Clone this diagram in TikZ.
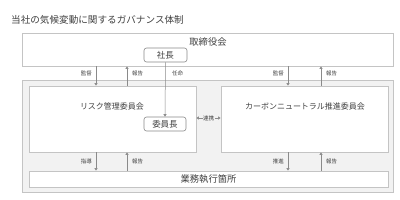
\documentclass[tikz,border=0pt]{standalone}
\usepackage{fontspec}
\setmainfont{Noto Sans CJK JP}
\usetikzlibrary{arrows.meta}
\definecolor{txt}{HTML}{404040}
\definecolor{edge}{HTML}{C4C4C4}
\definecolor{outerfill}{HTML}{F2F2F2}
\definecolor{arr}{HTML}{8A8A8A}
\begin{document}
\begin{tikzpicture}[x=1pt,y=-1pt,
  box/.style={draw=edge,fill=white,line width=0.7pt,inner sep=0pt,minimum width=#1},
  rbox/.style={draw=arr,fill=white,rounded corners=2.5pt,line width=0.6pt,inner sep=0pt,minimum width=42pt,minimum height=14pt,font=\fontsize{8.5}{9}\selectfont,text=txt},
  lbl/.style={font=\fontsize{8}{9}\selectfont,text=txt,inner sep=0pt},
  small/.style={font=\fontsize{5.5}{6}\selectfont,text=txt,inner sep=0pt},
  conn/.style={draw=arr,line width=0.5pt,-{Triangle[width=3pt,length=2.5pt]}},
  conn2/.style={draw=arr,line width=0.5pt,{Triangle[width=3pt,length=2.5pt]}-{Triangle[width=3pt,length=2.5pt]}}]
\useasboundingbox (0,0) rectangle (400,200);
\node[anchor=west,font=\fontsize{9.6}{10}\selectfont,text=txt,inner sep=0pt] (title) at (11,20) {当社の気候変動に関するガバナンス体制};
% board
\node[box=371pt,minimum height=33pt] (board) at (207.5,49.5) {};
\node[font=\fontsize{9.3}{10}\selectfont,text=txt,inner sep=0pt] (boardt) at (208,42) {取締役会};
\node[rbox,minimum width=43pt] (pres) at (165.5,55) {社長};
% outer
\node[draw=edge,fill=outerfill,line width=0.7pt,inner sep=0pt,minimum width=371pt,minimum height=112pt] (outer) at (207.5,136) {};
\node[box=167pt,minimum height=66pt] (risk) at (112.5,119) {};
\node[lbl] (riskt) at (112,106) {リスク管理委員会};
\node[box=167pt,minimum height=66pt] (cn) at (304.5,119) {};
\node[lbl] (cnt) at (305,106) {カーボンニュートラル推進委員会};
\node[rbox] (chair) at (165,124) {委員長};
\node[box=359pt,minimum height=16pt] (ops) at (208.5,179) {};
\node[font=\fontsize{9.3}{10}\selectfont,text=txt,inner sep=0pt] (opst) at (208.5,179) {業務執行箇所};
% board <-> committees
\draw[conn] (96,0 |- board.south) -- (96,0 |- risk.north);
\node[small,anchor=east] (l1) at (92,73) {監督};
\draw[conn] (127,0 |- risk.north) -- (127,0 |- board.south);
\node[small,anchor=west] (l2) at (132,73) {報告};
\draw[conn] (pres.south) -- (chair.north);
\node[small,anchor=west] (l3) at (172,73) {任命};
\draw[conn] (288,0 |- board.south) -- (288,0 |- cn.north);
\node[small,anchor=east] (l4) at (284,73) {監督};
\draw[conn] (321,0 |- cn.north) -- (321,0 |- board.south);
\node[small,anchor=west] (l5) at (326,73) {報告};
% link
\draw[conn2] (risk.east |- 0,118) -- (cn.west |- 0,118);
\node[small,fill=outerfill,inner sep=0.5pt] (l6) at (208.5,118) {連携};
% committees <-> ops
\draw[conn] (96,0 |- risk.south) -- (96,0 |- ops.north);
\node[small,anchor=east] (l7) at (92,161) {指導};
\draw[conn] (127,0 |- ops.north) -- (127,0 |- risk.south);
\node[small,anchor=west] (l8) at (132,161) {報告};
\draw[conn] (288,0 |- cn.south) -- (288,0 |- ops.north);
\node[small,anchor=east] (l9) at (284,161) {推進};
\draw[conn] (321,0 |- ops.north) -- (321,0 |- cn.south);
\node[small,anchor=west] (l10) at (326,161) {報告};
\end{tikzpicture}
\end{document}
